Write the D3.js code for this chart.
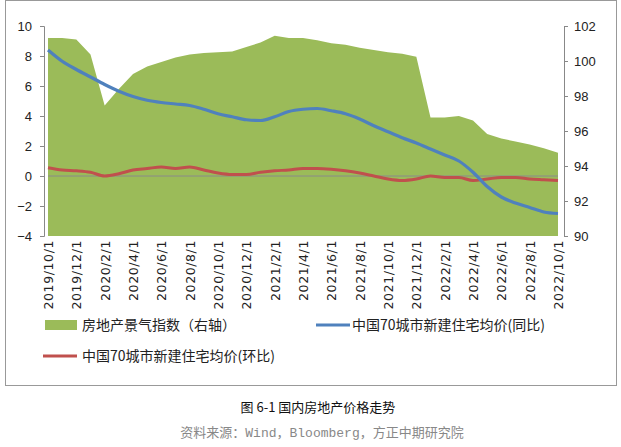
<!DOCTYPE html>
<html><head><meta charset="utf-8">
<script src="https://cdn.jsdelivr.net/npm/d3@7"></script>
<style>body{margin:0;background:#fff;font-family:"Noto Sans CJK SC",sans-serif}</style>
</head><body><div id="chart"></div>
<script>
// monthly, 2019/10 .. 2022/10
var months = [];
for (var y = 2019, m = 10; y < 2022 || (y == 2022 && m <= 10); ) {
	months.push(y + "/" + m + "/1");
	m++; if (m > 12) { m = 1; y++; }
}
var climateIndex = [101.31,101.31,101.23,100.37,97.46,98.4,99.26,99.69,99.94,100.2,100.37,100.46,100.5,100.54,100.8,101.06,101.44,101.31,101.31,101.19,101.01,100.93,100.76,100.63,100.5,100.41,100.24,96.77,96.77,96.86,96.6,95.83,95.57,95.4,95.23,95.01,94.76];
var yoy = [8.4,7.65,7.1,6.6,6.1,5.65,5.3,5.05,4.9,4.8,4.7,4.45,4.15,3.95,3.75,3.7,3.95,4.3,4.45,4.5,4.35,4.15,3.8,3.35,2.95,2.55,2.2,1.8,1.4,1.0,0.25,-0.7,-1.4,-1.8,-2.1,-2.4,-2.5];
var mom = [0.55,0.4,0.35,0.25,0.0,0.15,0.4,0.5,0.6,0.5,0.6,0.4,0.2,0.1,0.1,0.25,0.35,0.4,0.5,0.5,0.45,0.35,0.2,0.0,-0.2,-0.3,-0.2,0.0,-0.1,-0.1,-0.3,-0.2,-0.1,-0.1,-0.2,-0.25,-0.3];
var leftTicks = [-4,-2,0,2,4,6,8,10];
var rightTicks = [90,92,94,96,98,100,102];

var svg = d3.select("#chart").append("svg").attr("width", 621).attr("height", 447);

svg.append("rect").attr("x", 5.5).attr("y", 0.5).attr("width", 611).attr("height", 385)
	.attr("fill", "none").attr("stroke", "#999");

var x = d3.scaleLinear().domain([0, months.length - 1]).range([48, 558]);
var yL = d3.scaleLinear().domain([-4, 10]).range([236, 26]);
var yR = d3.scaleLinear().domain([90, 102]).range([236, 26]);

svg.append("path").datum(climateIndex)
	.attr("fill", "#9bbb59")
	.attr("d", d3.area().x(function(d, i) { return x(i); }).y0(yR(90)).y1(function(d) { return yR(d); }));

svg.append("line").attr("x1", x(0)).attr("x2", x(months.length - 1))
	.attr("y1", yL(0)).attr("y2", yL(0)).attr("stroke", "#8a8a8a");

var line = d3.line().x(function(d, i) { return x(i); }).y(function(d) { return yL(d); }).curve(d3.curveMonotoneX);
svg.append("path").datum(mom).attr("fill", "none").attr("stroke", "#c0504d").attr("stroke-width", 3).attr("d", line);
svg.append("path").datum(yoy).attr("fill", "none").attr("stroke", "#4f81bd").attr("stroke-width", 3.2).attr("d", line);

var axL = svg.append("g").attr("transform", "translate(44,0)")
	.call(d3.axisLeft(yL).tickValues(leftTicks).tickSize(4).tickPadding(8));
var axR = svg.append("g").attr("transform", "translate(564,0)")
	.call(d3.axisRight(yR).tickValues(rightTicks).tickSize(4).tickPadding(6));
[axL, axR].forEach(function(a) {
	a.selectAll("path,line").attr("stroke", "#888");
	a.selectAll("text").attr("font-family", "Liberation Sans, sans-serif").attr("font-size", 13).attr("fill", "#222");
});

svg.selectAll(".xl").data(months.filter(function(d, i) { return i % 2 == 0; }))
	.enter().append("text")
	.attr("transform", function(d, i) { return "translate(" + (x(i * 2) + 5) + ",240) rotate(-90)"; })
	.attr("text-anchor", "end")
	.attr("font-family", "DejaVu Sans, sans-serif").attr("font-size", 12.5).attr("letter-spacing", 0.6)
	.attr("fill", "#222").text(function(d) { return d; });

// legend
var lg = svg.append("g").attr("font-size", 14).attr("fill", "#222");
lg.append("rect").attr("x", 45).attr("y", 320).attr("width", 32).attr("height", 10).attr("fill", "#9bbb59");
lg.append("text").attr("x", 82).attr("y", 330).text("房地产景气指数（右轴）");
lg.append("line").attr("x1", 316).attr("x2", 350).attr("y1", 325).attr("y2", 325).attr("stroke", "#4f81bd").attr("stroke-width", 3);
lg.append("text").attr("x", 352).attr("y", 330).text("中国70城市新建住宅均价(同比)");
lg.append("line").attr("x1", 43).attr("x2", 77).attr("y1", 356).attr("y2", 356).attr("stroke", "#c0504d").attr("stroke-width", 3);
lg.append("text").attr("x", 82).attr("y", 361).text("中国70城市新建住宅均价(环比)");

svg.append("text").attr("x", 318).attr("y", 412).attr("text-anchor", "middle")
	.attr("font-size", 13).attr("fill", "#111").text("图 6-1 国内房地产价格走势");
svg.append("text").attr("x", 322).attr("y", 437).attr("text-anchor", "middle")
	.attr("font-family", "Liberation Mono, Noto Sans CJK SC, monospace")
	.attr("font-size", 13).attr("fill", "#888").text("资料来源：Wind，Bloomberg，方正中期研究院");
</script></body></html>
